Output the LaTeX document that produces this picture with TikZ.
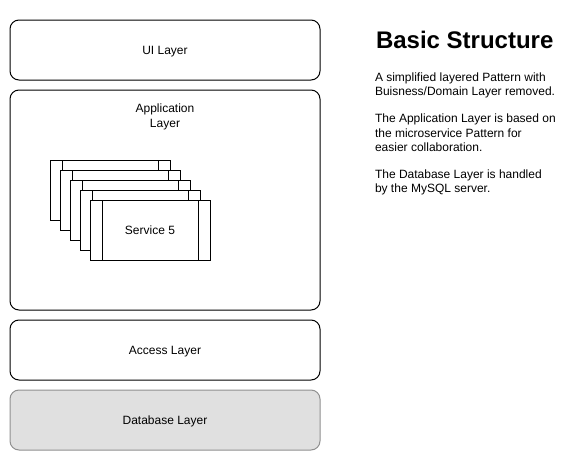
\documentclass[tikz,border=0pt]{standalone}
\usepackage{fontspec}
\setmainfont{Liberation Sans}
\usepackage{tikz}
\usetikzlibrary{positioning}
\definecolor{dbfill}{HTML}{E0E0E0}
\definecolor{dbline}{HTML}{909090}

\begin{document}
\begin{tikzpicture}[x=1pt,y=-1pt,node distance=12.5pt,
    every node/.style={inner sep=0,outer sep=0,font=\fontsize{12}{14.4}\selectfont},
    layer/.style={draw,line width=1pt,rounded corners=9pt,minimum width=310pt,minimum height=60pt,
        text height=8.6pt,text depth=0pt},
    service/.style={draw,fill=white,line width=1pt,minimum width=120pt,minimum height=60pt,
        text height=8.6pt,text depth=0pt},
    para/.style={align=left,anchor=north west}]
    \useasboundingbox (0,0) rectangle (571,461);
    % layers
    \node[layer] (UI) at (165,50) {UI Layer};
    \node[layer,minimum height=220pt] (App) at (165,200) {};
    \node[align=center,anchor=north] (AppL) at (165,104) {Application\\Layer};
    \node[layer] (Acc) at (165,350) {Access Layer};
    \node[layer,fill=dbfill,draw=dbline] (DB) at (165,420) {Database Layer};
    % stacked services
    \foreach \i/\txt in {1/,2/,3/,4/,5/Service 5} {
        \node[service] (S\i) at (100+10*\i,180+10*\i) {\txt};
        \draw[line width=1pt] ([xshift=12pt]S\i.north west) -- ([xshift=12pt]S\i.south west);
        \draw[line width=1pt] ([xshift=-12pt]S\i.north east) -- ([xshift=-12pt]S\i.south east);
    }
    % notes
    \node[anchor=base west,font=\fontsize{24}{28}\selectfont\bfseries] (T) at (376,48) {Basic Structure};
    \node[para] (N1) at (375,71.5) {\strut A simplified layered Pattern with\\Buisness/Domain Layer removed.\strut};
    \node[para,below=of N1.south west,anchor=north west] (N2) {\strut The Application Layer is based on\\the microservice Pattern for\\easier collaboration.\strut};
    \node[para,below=of N2.south west,anchor=north west] (N3) {\strut The Database Layer is handled\\by the MySQL server.\strut};
\end{tikzpicture}
\end{document}
